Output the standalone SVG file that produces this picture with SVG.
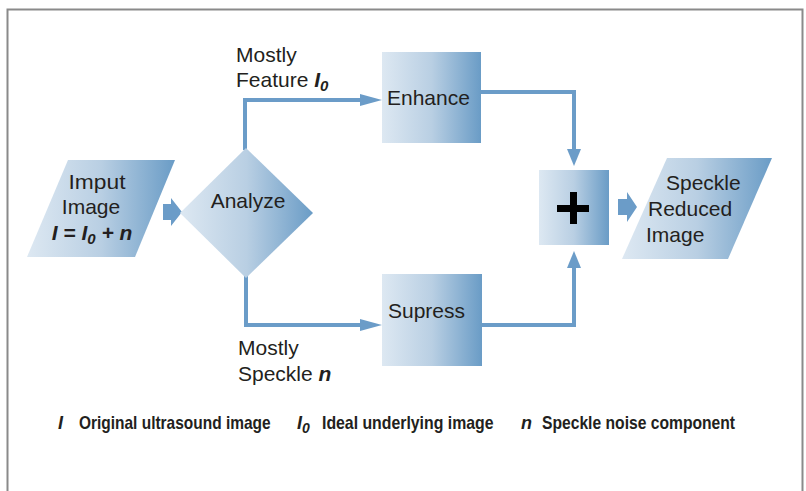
<svg xmlns="http://www.w3.org/2000/svg" width="806" height="491" viewBox="0 0 806 491">
<defs>
<linearGradient id="g" x1="0" y1="0" x2="1" y2="0">
<stop offset="0" stop-color="#dde8f2"/>
<stop offset="0.5" stop-color="#b9cfe3"/>
<stop offset="1" stop-color="#6a9cc6"/>
</linearGradient>
<style>
.lbl{font-family:"Liberation Sans",Arial,sans-serif;font-size:21px;fill:#231f20}
.bi{font-weight:bold;font-style:italic}
.leg{font-family:"Liberation Sans",Arial,sans-serif;font-size:18px;font-weight:bold;fill:#231f20}
.shape{fill:url(#g)}
.con{fill:none;stroke:#6b9cc8;stroke-width:4}
.head{fill:#6b9cc8}
</style>
</defs>
<rect width="806" height="491" fill="#fff"/>
<path d="M7.5,520 V9.5 H802.5 V520" fill="none" stroke="#8a8a8a" stroke-width="2"/>

<g id="connectors">
<path class="con" d="M245,150 V100 H364"/>
<polygon class="head" points="360,94 382,100 360,106"/>
<path class="con" d="M246,276 V325 H364"/>
<polygon class="head" points="360,319 382,325 360,331"/>
<path class="con" d="M481,92 H574 V152"/>
<polygon class="head" points="567,149 574,166 581,149"/>
<path class="con" d="M482,325 H574 V266"/>
<polygon class="head" points="567,268 574,251 581,268"/>
<polygon class="head" points="163,204 171,204 171,198 182,212 171,226 171,220 163,220"/>
<polygon class="head" points="618,199 627,199 627,192 637,207 627,222 627,215 618,215"/>
</g>

<g id="input">
<polygon class="shape" points="68,160 175,160 135,257 27,257"/>
<text class="lbl" x="97" y="189" text-anchor="middle" textLength="57" lengthAdjust="spacingAndGlyphs">Imput</text>
<text class="lbl" x="91" y="214" text-anchor="middle">Image</text>
<text class="lbl bi" x="92" y="240" text-anchor="middle">I = I<tspan font-size="15" dy="4">0</tspan><tspan dy="-4"> + n</tspan></text>
</g>

<g id="analyze">
<polygon class="shape" points="180,213 246,148 313,213 246,278"/>
<text class="lbl" x="248" y="208" text-anchor="middle">Analyze</text>
</g>

<g id="enhance">
<rect class="shape" x="382" y="52" width="99" height="91"/>
<text class="lbl" x="387" y="105">Enhance</text>
</g>

<g id="supress">
<rect class="shape" x="382" y="274" width="100" height="92"/>
<text class="lbl" x="388" y="318">Supress</text>
</g>

<g id="plus">
<rect class="shape" x="539" y="170" width="70" height="75"/>
<rect x="557" y="205" width="32" height="7" fill="#000"/>
<rect x="570" y="192" width="7" height="32" fill="#000"/>
</g>

<g id="output">
<polygon class="shape" points="667,158 772,158 728,259 622,259"/>
<text class="lbl" x="666" y="190">Speckle</text>
<text class="lbl" x="648" y="216">Reduced</text>
<text class="lbl" x="646" y="242">Image</text>
</g>

<g id="label-feature">
<text class="lbl" x="236" y="62">Mostly</text>
<text class="lbl" x="236" y="87">Feature <tspan class="bi">I</tspan><tspan class="bi" font-size="15" dy="4">0</tspan></text>
</g>

<g id="label-speckle">
<text class="lbl" x="238" y="355">Mostly</text>
<text class="lbl" x="238" y="381">Speckle <tspan class="bi">n</tspan></text>
</g>

<g id="legend">
<text class="leg" x="58" y="429" font-style="italic">I</text>
<text class="leg" transform="translate(79,429) scale(0.86,1)">Original ultrasound image</text>
<text class="leg" x="297" y="429" font-style="italic">I<tspan font-size="14" dy="4">0</tspan></text>
<text class="leg" transform="translate(322,429) scale(0.88,1)">Ideal underlying image</text>
<text class="leg" x="521" y="429" font-style="italic">n</text>
<text class="leg" transform="translate(542,429) scale(0.87,1)">Speckle noise component</text>
</g>
</svg>
